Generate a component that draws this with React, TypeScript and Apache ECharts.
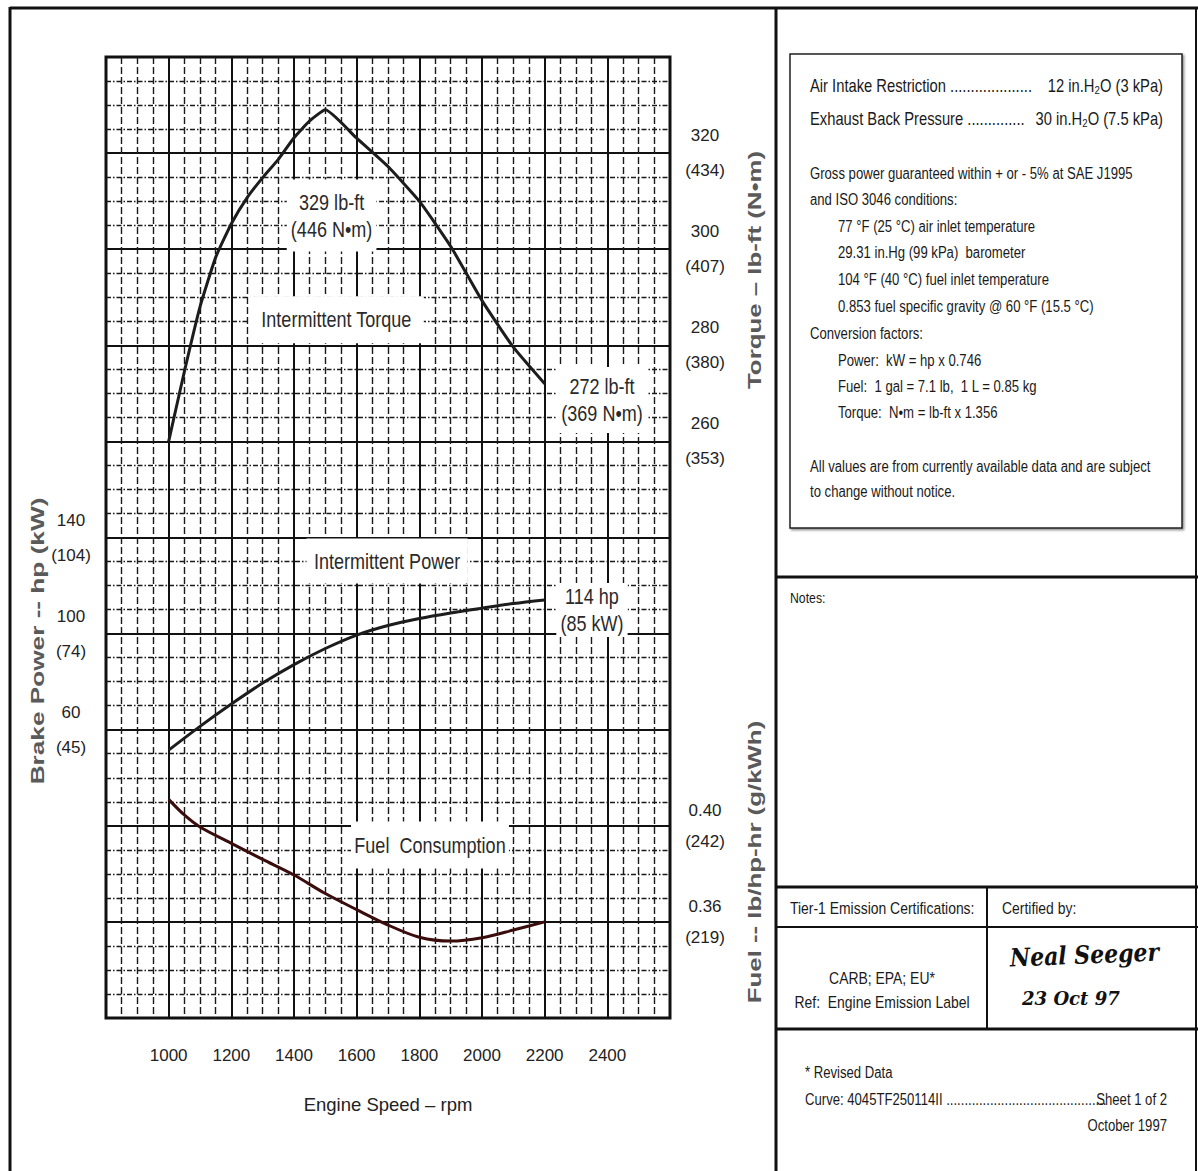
import React, { useEffect, useRef } from "react";
import * as echarts from "echarts";

// ---------------- data ----------------
const rpmAxisLabels = [1000, 1200, 1400, 1600, 1800, 2000, 2200, 2400];

const torqueRpm = [1000, 1050, 1100, 1150, 1200, 1250, 1300, 1350, 1400, 1450, 1500, 1600, 1700, 1800, 1900, 2000, 2100, 2200];
const torqueLbFt = [260, 274.5, 288, 298.3, 305.3, 310.7, 314.9, 318.7, 323.2, 326.7, 329, 323.1, 317.2, 310, 300.6, 289.3, 279.6, 272];

const powerRpm = [1000, 1100, 1200, 1300, 1400, 1500, 1600, 1700, 1800, 1900, 2000, 2100, 2200];
const powerHp = [51.5, 61.4, 70.7, 79.4, 87.1, 93.8, 99.4, 103.4, 106.3, 108.6, 110.6, 112.5, 114];

const fuelRpm = [1000, 1050, 1100, 1200, 1300, 1400, 1500, 1600, 1700, 1800, 1900, 2000, 2100, 2200];
const fuelLbPerHpHr = [0.411, 0.4045, 0.3995, 0.3927, 0.386, 0.3795, 0.3718, 0.3651, 0.3587, 0.3536, 0.352, 0.3534, 0.3566, 0.36];

const torqueTicks = [260, 280, 300, 320];
const torqueTicksNm = [353, 380, 407, 434];
const powerTicks = [60, 100, 140];
const powerTicksKw = [45, 74, 104];
const fuelTicks = [0.36, 0.4];
const fuelTicksGkWh = [219, 242];

const torqueNotes = ["329 lb-ft\n(446 N•m)", "Intermittent Torque", "272 lb-ft\n(369 N•m)"];
const torqueNoteRpm = [1520, 1535, 2383];
const torqueNoteValue = [307, 285.3, 268.6];
const powerNotes = ["Intermittent Power", "114 hp\n(85 kW)"];
const powerNoteRpm = [1697, 2351];
const powerNoteValue = [130.2, 109.8];
const fuelNotes = ["Fuel  Consumption"];
const fuelNoteRpm = [1834];
const fuelNoteValue = [0.392];

// ---------------- styling ----------------
const SANS = "'Liberation Sans', Arial, sans-serif";
const SX = 0.82;

const zip = (xs: number[], ys: number[]) => xs.map((x, i) => [x, ys[i]]);
const findTick = (ticks: number[], v: number) => ticks.findIndex((t) => Math.abs(t - v) < 1e-6);

function txt(x: number, y: number, text: string, size: number, align = "left", extra: any = {}) {
  return {
    type: "text",
    x,
    y,
    scaleX: SX,
    silent: true,
    z: 50,
    style: {
      text,
      font: `${size}px ${SANS}`,
      fill: "#1a1a1a",
      align,
      verticalAlign: "middle",
      textAlign: align,
      textVerticalAlign: "middle",
      ...extra,
    },
  };
}

function ln(x1: number, y1: number, x2: number, y2: number, w: number) {
  return {
    type: "line",
    silent: true,
    z: 40,
    shape: { x1, y1, x2, y2 },
    style: { stroke: "#111", lineWidth: w },
  };
}

function subText(x: number, y: number, before: string, after: string, size: number, align: string) {
  return {
    type: "text",
    x,
    y,
    scaleX: SX,
    silent: true,
    z: 50,
    style: {
      text: `{n|${before}}{s|2}{n|${after}}`,
      align,
      verticalAlign: "middle",
      textAlign: align,
      textVerticalAlign: "middle",
      fill: "#1a1a1a",
      rich: {
        n: { fontSize: size, fontFamily: SANS, fill: "#1a1a1a", color: "#1a1a1a" },
        s: { fontSize: size * 0.65, fontFamily: SANS, fill: "#1a1a1a", color: "#1a1a1a", padding: [9, 0, 0, 0] },
      },
    },
  };
}

function vName(x: number, y: number, text: string, sx: number) {
  return {
    type: "text",
    x,
    y,
    rotation: Math.PI / 2,
    scaleX: sx,
    silent: true,
    z: 50,
    style: {
      text,
      font: `bold 19px ${SANS}`,
      fill: "#5a5a5a",
      align: "center",
      verticalAlign: "middle",
      textAlign: "center",
      textVerticalAlign: "middle",
    },
  };
}

function scriptText(x: number, y: number, text: string, size: number, sx: number, rot: number) {
  return {
    type: "text",
    x,
    y,
    rotation: rot,
    scaleX: sx,
    silent: true,
    z: 50,
    style: {
      text,
      font: `italic bold ${size}px 'DejaVu Serif', serif`,
      fill: "#111",
      align: "left",
      verticalAlign: "middle",
      textAlign: "left",
      textVerticalAlign: "middle",
    },
  };
}

function buildOption() {
  // padding [vertical, horizontal] in unscaled text units
  const notePad: Record<string, number[]> = {
    "329 lb-ft\n(446 N•m)": [9, 5],
    "Intermittent Torque": [10, 15],
    "272 lb-ft\n(369 N•m)": [6, 6],
    "Intermittent Power": [9, 9],
    "114 hp\n(85 kW)": [0, 5],
    "Fuel  Consumption": [10, 4],
  };
  const noteSeries = (names: string[], xs: number[], ys: number[], yAxisIndex: number) => ({
    type: "custom",
    yAxisIndex,
    z: 10,
    silent: true,
    data: names.map((n, i) => [xs[i], ys[i]]),
    renderItem: (params: any, api: any) => {
      const p = api.coord([api.value(0), api.value(1)]);
      const name = names[params.dataIndex];
      return {
        type: "text",
        x: p[0],
        y: p[1],
        scaleX: SX,
        z2: 10,
        style: {
          text: name,
          font: `22px ${SANS}`,
          fill: "#2a2a2a",
          lineHeight: 27,
          backgroundColor: "#fff",
          padding: notePad[name],
          align: "center",
          verticalAlign: "middle",
          textAlign: "center",
          textVerticalAlign: "middle",
        },
      };
    },
  });

  const tickLabelStyle = {
    fontFamily: SANS,
    fontSize: 17,
    color: "#222",
    lineHeight: 35,
    align: "center",
    margin: 35,
  };

  const graphic: any[] = [
    // page frame
    ln(10, 8, 1198, 8, 3),
    ln(10, 7, 10, 1171, 3),
    ln(776, 7, 776, 1171, 3),
    ln(1196, 7, 1196, 1171, 2),
    ln(776, 577, 1198, 577, 3),
    ln(776, 887, 1198, 887, 3),
    ln(776, 927, 1198, 927, 2),
    ln(987, 887, 987, 1029, 2),
    ln(776, 1029, 1198, 1029, 3),
    // conditions box
    {
      type: "rect",
      silent: true,
      z: 39,
      shape: { x: 790, y: 54, width: 392, height: 474 },
      style: {
        fill: "#fff",
        stroke: "#222",
        lineWidth: 1.5,
        shadowBlur: 2,
        shadowOffsetX: 1.5,
        shadowOffsetY: 1.5,
        shadowColor: "rgba(0,0,0,0.45)",
      },
    },
    txt(810, 85, "Air Intake Restriction ....................", 18),
    subText(1163, 85, "12 in.H", "O (3 kPa)", 18, "right"),
    txt(810, 118, "Exhaust Back Pressure ..............", 18),
    subText(1163, 118, "30 in.H", "O (7.5 kPa)", 18, "right"),
    txt(810, 174, "Gross power guaranteed within + or - 5% at SAE J1995", 16),
    txt(810, 200, "and ISO 3046 conditions:", 16),
    txt(838, 227, "77 °F (25 °C) air inlet temperature", 16),
    txt(838, 253, "29.31 in.Hg (99 kPa)  barometer", 16),
    txt(838, 280, "104 °F (40 °C) fuel inlet temperature", 16),
    txt(838, 307, "0.853 fuel specific gravity @ 60 °F (15.5 °C)", 16),
    txt(810, 334, "Conversion factors:", 16),
    txt(838, 361, "Power:  kW = hp x 0.746", 16),
    txt(838, 387, "Fuel:  1 gal = 7.1 lb,  1 L = 0.85 kg", 16),
    txt(838, 413, "Torque:  N•m = lb-ft x 1.356", 16),
    txt(810, 467, "All values are from currently available data and are subject", 16),
    txt(810, 492, "to change without notice.", 16),
    // notes & certification
    txt(790, 598, "Notes:", 15),
    txt(790, 908, "Tier-1 Emission Certifications:", 17),
    txt(1002, 908, "Certified by:", 17),
    txt(882, 978, "CARB; EPA; EU*", 17, "center"),
    txt(882, 1002, "Ref:  Engine Emission Label", 17, "center"),
    scriptText(1010, 958, "Neal Seeger", 25, 0.88, 0.04),
    scriptText(1022, 998, "23 Oct 97", 19, 0.95, 0),
    txt(805, 1073, "* Revised Data", 16),
    txt(805, 1100, "Curve: 4045TF250114II ............................................", 16),
    txt(1167, 1100, "Sheet 1 of 2", 16, "right"),
    txt(1167, 1126, "October 1997", 16, "right"),
    // axis titles
    vName(37, 641, "Brake Power -- hp (kW)", 1.38),
    vName(754, 270, "Torque – lb-ft (N•m)", 1.36),
    vName(754, 862, "Fuel -- lb/hp-hr (g/kWh)", 1.36),
  ];

  return {
    animation: false,
    backgroundColor: "#fff",
    grid: {
      left: 106,
      top: 57,
      width: 564,
      height: 961,
      show: true,
      borderColor: "#111",
      borderWidth: 3,
      backgroundColor: "transparent",
    },
    xAxis: {
      type: "value",
      min: 800,
      max: 2600,
      interval: 200,
      axisLine: { show: false },
      axisTick: { show: false },
      axisLabel: {
        formatter: (v: number) => (rpmAxisLabels.indexOf(v) >= 0 ? String(v) : ""),
        fontFamily: SANS,
        fontSize: 17,
        color: "#222",
        margin: 29,
      },
      splitLine: { show: true, lineStyle: { color: "#111", width: 2 } },
      minorTick: { show: false, splitNumber: 4 },
      minorSplitLine: { show: true, lineStyle: { color: "#1a1a1a", width: 1.4, type: [7, 3] } },
      name: "Engine Speed – rpm",
      nameLocation: "middle",
      nameGap: 77,
      nameTextStyle: { fontFamily: SANS, fontSize: 18.5, color: "#222" },
    },
    yAxis: [
      {
        type: "value",
        position: "right",
        min: 140,
        max: 340,
        interval: 20,
        axisLine: { show: false },
        axisTick: { show: false },
        axisLabel: {
          ...tickLabelStyle,
          formatter: (v: number) => {
            const i = findTick(torqueTicks, v);
            return i >= 0 ? `${torqueTicks[i]}\n(${torqueTicksNm[i]})` : "";
          },
        },
        splitLine: { show: true, lineStyle: { color: "#111", width: 2 } },
        minorTick: { show: false, splitNumber: 4 },
        minorSplitLine: { show: true, lineStyle: { color: "#1a1a1a", width: 1.3, type: [5, 2, 1.5, 2] } },
      },
      {
        type: "value",
        position: "left",
        min: -60,
        max: 340,
        interval: 20,
        axisLine: { show: false },
        axisTick: { show: false },
        splitLine: { show: false },
        axisLabel: {
          ...tickLabelStyle,
          margin: 35,
          formatter: (v: number) => {
            const i = findTick(powerTicks, v);
            return i >= 0 ? `${powerTicks[i]}\n(${powerTicksKw[i]})` : "";
          },
        },
      },
      {
        type: "value",
        position: "right",
        min: 0.32,
        max: 0.72,
        interval: 0.04,
        axisLine: { show: false },
        axisTick: { show: false },
        splitLine: { show: false },
        axisLabel: {
          ...tickLabelStyle,
          lineHeight: 31,
          formatter: (v: number) => {
            const i = findTick(fuelTicks, v);
            return i >= 0 ? `${fuelTicks[i].toFixed(2)}\n(${fuelTicksGkWh[i]})` : "";
          },
        },
      },
    ],
    series: [
      {
        name: "Intermittent Torque",
        type: "line",
        yAxisIndex: 0,
        data: zip(torqueRpm, torqueLbFt),
        showSymbol: false,
        smooth: 0.15,
        z: 5,
        lineStyle: { color: "#1c1c1c", width: 3 },
      },
      {
        name: "Intermittent Power",
        type: "line",
        yAxisIndex: 1,
        data: zip(powerRpm, powerHp),
        showSymbol: false,
        smooth: 0.3,
        z: 5,
        lineStyle: { color: "#1c1c1c", width: 3 },
      },
      {
        name: "Fuel Consumption",
        type: "line",
        yAxisIndex: 2,
        data: zip(fuelRpm, fuelLbPerHpHr),
        showSymbol: false,
        smooth: 0.3,
        z: 5,
        lineStyle: { color: "#3a0c0c", width: 3 },
      },
      noteSeries(torqueNotes, torqueNoteRpm, torqueNoteValue, 0),
      noteSeries(powerNotes, powerNoteRpm, powerNoteValue, 1),
      noteSeries(fuelNotes, fuelNoteRpm, fuelNoteValue, 2),
    ],
    graphic,
  };
}

export default function App() {
  const ref = useRef<HTMLDivElement>(null);
  useEffect(() => {
    if (!ref.current) return;
    const chart = echarts.init(ref.current, null, { renderer: "svg" });
    chart.setOption(buildOption() as any);
    return () => chart.dispose();
  }, []);
  return (
    <div
      ref={ref}
      style={{ position: "absolute", left: 0, top: 0, width: 1198, height: 1171, background: "#fff" }}
    />
  );
}
